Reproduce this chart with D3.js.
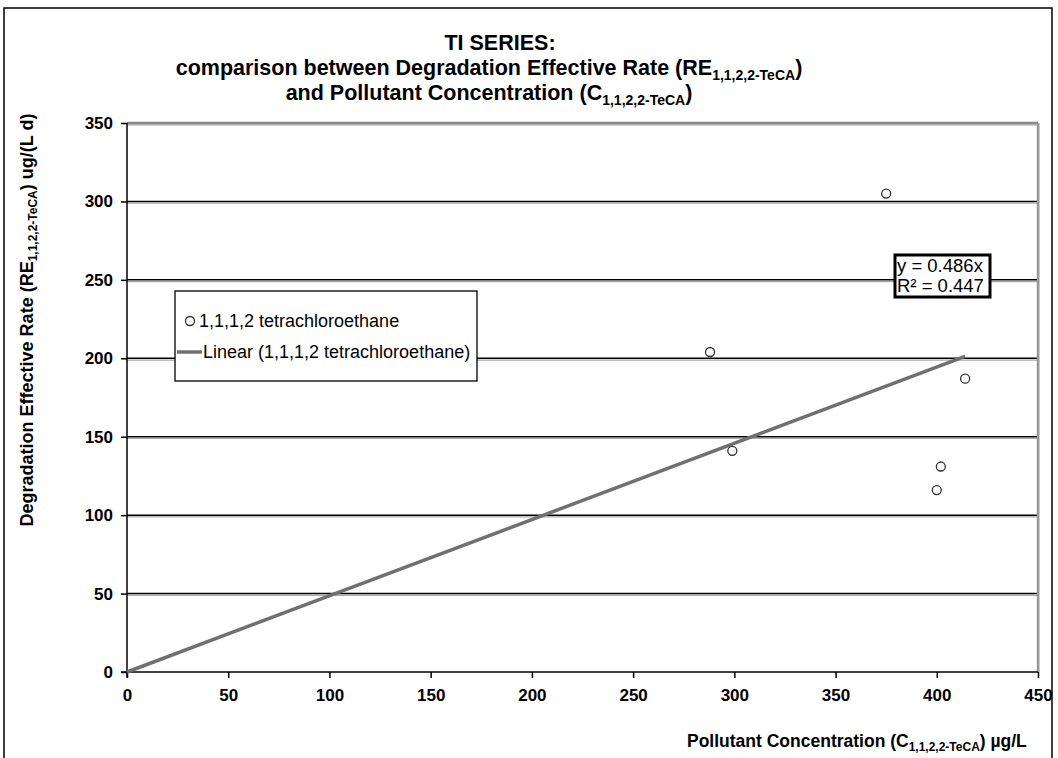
<!DOCTYPE html>
<html>
<head>
<meta charset="utf-8">
<script src="https://cdn.jsdelivr.net/npm/d3@7"></script>
<style>
  body { margin: 0; background: #fff; }
  svg { font-family: "Liberation Sans", Arial, sans-serif; }
</style>
</head>
<body>
<svg width="1058" height="758"></svg>
<script>
var concentration = [288, 299, 375, 400, 402, 414];
var rate = [204, 141, 305, 116, 131, 187];
var slope = 0.486;
var r2 = 0.447;
var xTicks = [0, 50, 100, 150, 200, 250, 300, 350, 400, 450];
var yTicks = [0, 50, 100, 150, 200, 250, 300, 350];
var seriesName = "1,1,1,2 tetrachloroethane";

var svg = d3.select("svg"),
    margin = {top: 123, right: 20, bottom: 86, left: 127},
    width = 1038 - margin.left,
    height = 672 - margin.top,
    g = svg.append("g").attr("transform", "translate(" + margin.left + "," + margin.top + ")");

// outer chart frame
svg.append("rect")
    .attr("x", 4).attr("y", 8)
    .attr("width", 1048).attr("height", 760)
    .attr("fill", "none").attr("stroke", "#000").attr("stroke-width", 1.5);

var x = d3.scaleLinear().domain([0, 450]).range([0, width]),
    y = d3.scaleLinear().domain([0, 350]).range([height, 0]);

// title
var title = svg.append("text")
    .attr("text-anchor", "middle")
    .style("font-weight", "bold")
    .style("font-size", "21.5px");
title.append("tspan").attr("x", 500).attr("y", 50).text("TI SERIES:");
var t2 = title.append("tspan").attr("x", 489).attr("y", 75);
t2.append("tspan").text("comparison between Degradation Effective Rate (RE");
t2.append("tspan").attr("dy", 5).style("font-size", "14px").text("1,1,2,2-TeCA");
t2.append("tspan").attr("dy", -5).text(")");
var t3 = title.append("tspan").attr("x", 489).attr("y", 100);
t3.append("tspan").text("and Pollutant Concentration (C");
t3.append("tspan").attr("dy", 5).style("font-size", "14px").text("1,1,2,2-TeCA");
t3.append("tspan").attr("dy", -5).text(")");

// gridlines with shadow
var grid = g.append("g").attr("class", "grid");
grid.selectAll(".shadow")
  .data(yTicks.filter(function(d) { return d > 0; }))
  .enter().append("line")
    .attr("class", "shadow")
    .attr("x1", 0).attr("x2", width)
    .attr("y1", function(d) { return y(d) + 1.8; })
    .attr("y2", function(d) { return y(d) + 1.8; })
    .attr("stroke", "#aaa").attr("stroke-width", 1.2);
grid.selectAll(".gl")
  .data(yTicks.filter(function(d) { return d > 0 && d < 350; }))
  .enter().append("line")
    .attr("class", "gl")
    .attr("x1", 0).attr("x2", width)
    .attr("y1", function(d) { return y(d); })
    .attr("y2", function(d) { return y(d); })
    .attr("stroke", "#000").attr("stroke-width", 1.5);

// top and right plot border (grey)
g.append("line").attr("x1", 0).attr("x2", width).attr("y1", 0).attr("y2", 0)
    .attr("stroke", "#888").attr("stroke-width", 2.5);
g.append("line").attr("x1", width).attr("x2", width).attr("y1", 0).attr("y2", height)
    .attr("stroke", "#999").attr("stroke-width", 2.5);
g.append("line").attr("x1", width + 1.5).attr("x2", width + 1.5).attr("y1", 0).attr("y2", height)
    .attr("stroke", "#ccc").attr("stroke-width", 1);

// axes
var xAxis = g.append("g")
    .attr("transform", "translate(0," + height + ")")
    .call(d3.axisBottom(x).tickValues(xTicks).tickSize(6).tickPadding(11));
var yAxis = g.append("g")
    .call(d3.axisLeft(y).tickValues(yTicks).tickSize(6).tickPadding(8));
[xAxis, yAxis].forEach(function(a) {
  a.select(".domain").attr("stroke", "#000").attr("stroke-width", 1.5);
  a.selectAll(".tick line").attr("stroke", "#000").attr("stroke-width", 1.5);
  a.selectAll(".tick text")
      .attr("fill", "#000")
      .style("font-family", "Liberation Sans, Arial, sans-serif")
      .style("font-size", "17px")
      .style("font-weight", "bold");
});
xAxis.select(".domain").attr("d", "M-6,0H" + width);
yAxis.select(".domain").attr("d", "M0," + (height + 6) + "V0");

// axis titles
var yl = svg.append("text")
    .attr("transform", "translate(33,320) rotate(-90)")
    .attr("text-anchor", "middle")
    .style("font-weight", "bold")
    .style("font-size", "18px");
yl.append("tspan").text("Degradation Effective Rate (RE");
yl.append("tspan").attr("dy", 4).style("font-size", "12px").text("1,1,2,2-TeCA");
yl.append("tspan").attr("dy", -4).text(") ug/(L d)");

var xl = svg.append("text")
    .attr("x", 687).attr("y", 747)
    .style("font-weight", "bold")
    .style("font-size", "17.5px");
xl.append("tspan").text("Pollutant Concentration (C");
xl.append("tspan").attr("dy", 4).style("font-size", "12px").text("1,1,2,2-TeCA");
xl.append("tspan").attr("dy", -4).text(") \u00b5g/L");

// trend line
var xMax = d3.max(concentration);
g.append("line")
    .attr("x1", x(0)).attr("y1", y(0))
    .attr("x2", x(xMax)).attr("y2", y(slope * xMax))
    .attr("stroke", "#707070").attr("stroke-width", 3.5);

// points
g.selectAll(".pt")
  .data(concentration.map(function(c, i) { return {x: c, y: rate[i]}; }))
  .enter().append("circle")
    .attr("class", "pt")
    .attr("cx", function(d) { return x(d.x); })
    .attr("cy", function(d) { return y(d.y); })
    .attr("r", 4.5)
    .attr("fill", "#fff").attr("stroke", "#333").attr("stroke-width", 1.3);

// equation box
var eq = svg.append("g").attr("transform", "translate(895,255)");
eq.append("rect").attr("width", 95).attr("height", 42)
    .attr("fill", "#fff").attr("stroke", "#000").attr("stroke-width", 3);
eq.append("text").attr("x", 2).attr("y", 17).style("font-size", "18.5px").text("y = " + slope + "x");
eq.append("text").attr("x", 2).attr("y", 37).style("font-size", "18.5px").text("R\u00b2 = " + r2);

// legend
var lg = svg.append("g").attr("transform", "translate(175,291)");
lg.append("rect").attr("width", 302).attr("height", 90)
    .attr("fill", "#fff").attr("stroke", "#000").attr("stroke-width", 1.3);
lg.append("circle").attr("cx", 15).attr("cy", 30).attr("r", 4.5)
    .attr("fill", "#fff").attr("stroke", "#333").attr("stroke-width", 1.3);
lg.append("text").attr("x", 24).attr("y", 36).style("font-size", "18px").text(seriesName);
lg.append("line").attr("x1", 2).attr("x2", 27).attr("y1", 61).attr("y2", 61)
    .attr("stroke", "#707070").attr("stroke-width", 3.5);
lg.append("text").attr("x", 28).attr("y", 67).style("font-size", "18px").text("Linear (" + seriesName + ")");
</script>
</body>
</html>
